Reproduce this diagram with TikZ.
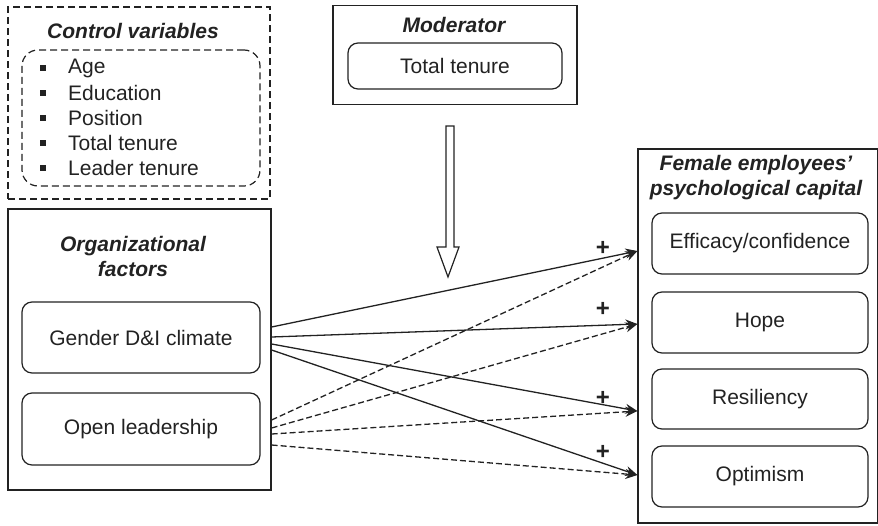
\documentclass[tikz,border=0pt]{standalone}
\usepackage{fontspec}
\setmainfont{Liberation Sans}
\usetikzlibrary{arrows.meta}
\definecolor{ink}{HTML}{222222}
\tikzset{
  frame/.style={draw=ink, line width=1.2pt, inner sep=0pt},
  dframe/.style={frame, dash pattern=on 7pt off 4pt},
  itembox/.style={draw=ink, line width=1.2pt, rounded corners=10pt, inner sep=0pt,
    font=\fontsize{21}{24}\selectfont, text=ink},
  head/.style={font=\fontsize{21}{25}\selectfont\bfseries\itshape, text=ink, align=center},
  listtext/.style={font=\fontsize{21}{24}\selectfont, text=ink, anchor=west, inner sep=0pt},
  bul/.style={fill=ink, minimum size=5.5pt, inner sep=0pt},
  link/.style={draw=ink, line width=1.3pt, -{Stealth[length=12pt,width=10pt,inset=4pt]}},
  dlink/.style={link, dash pattern=on 6pt off 3pt},
  plus/.style={font=\fontsize{24}{24}\selectfont\bfseries, text=ink, inner sep=0pt}
}
\begin{document}
\begin{tikzpicture}[x=1pt,y=-1pt]
\useasboundingbox (0,0) rectangle (878,525);

% control variables
\node[dframe, minimum width=262pt, minimum height=192pt] (ctrl) at (139,103) {};
\node[head] (ctrlt) at (133,31) {Control variables};
\node[itembox, dash pattern=on 7pt off 4pt, rounded corners=16pt,
      minimum width=238pt, minimum height=136pt] (ctrlin) at (141,118) {};
\foreach \t [count=\i] in {Age,Education,Position,Total tenure,Leader tenure}{
  \node[bul] (b\i) at (43,{68+25*(\i-1)}) {};
  \node[listtext] (l\i) at (68,{68+25*(\i-1)}) {\t};
}

% moderator
\node[frame, minimum width=244pt, minimum height=99pt] (mod) at (455,55) {};
\node[head] (modt) at (454,25) {Moderator};
\node[itembox, minimum width=214pt, minimum height=46pt] (tenure) at (455,66) {Total tenure};
\draw[ink, line width=1.2pt, fill=white]
  (446,126) -- (454,126) -- (454,247) -- (459,247) -- (448,277) -- (437,247) -- (446,247) -- cycle;

% organizational factors
\node[frame, minimum width=263pt, minimum height=281pt] (org) at (139.5,349.5) {};
\node[head] (orgt) at (133,256) {Organizational\\factors};
\node[itembox, minimum width=238pt, minimum height=71pt] (gdi) at (141,337.5) {Gender D\&I climate};
\node[itembox, minimum width=238pt, minimum height=72pt] (open) at (141,429) {Open leadership};

% psychological capital
\node[frame, minimum width=240pt, minimum height=374pt] (pc) at (758,336) {};
\node[head] (pct) at (756,178) {Female employees’\\psychological capital};
\node[itembox, minimum width=216pt, minimum height=61pt] (eff) at (760,243.5) {Efficacy/confidence};
\node[itembox, minimum width=216pt, minimum height=61pt] (hope) at (760,322.5) {Hope};
\node[itembox, minimum width=216pt, minimum height=60pt] (res) at (760,399) {Resiliency};
\node[itembox, minimum width=216pt, minimum height=61pt] (opt) at (760,476.5) {Optimism};

% connector end points on the frame edges
\coordinate (gA) at (org.east |- 0,327);
\coordinate (gB) at (org.east |- 0,337);
\coordinate (gC) at (org.east |- 0,344);
\coordinate (gD) at (org.east |- 0,350);
\coordinate (oA) at (org.east |- 0,420);
\coordinate (oB) at (org.east |- 0,428);
\coordinate (oC) at (org.east |- 0,434);
\coordinate (oD) at (org.east |- 0,445);
\coordinate (tA) at (pc.west |- 0,251);
\coordinate (tB) at (pc.west |- 0,324);
\coordinate (tC) at (pc.west |- 0,411);
\coordinate (tD) at (pc.west |- 0,475);

\draw[link] (gA) -- (tA);
\draw[link] (gB) -- (tB);
\draw[link] (gC) -- (tC);
\draw[link] (gD) -- (tD);
\draw[dlink] (oA) -- (tA);
\draw[dlink] (oB) -- (tB);
\draw[dlink] (oC) -- (tC);
\draw[dlink] (oD) -- (tD);

\node[plus] (p1) at (603,248) {+};
\node[plus] (p2) at (603,309) {+};
\node[plus] (p3) at (603,398) {+};
\node[plus] (p4) at (603,452) {+};
\end{tikzpicture}
\end{document}
